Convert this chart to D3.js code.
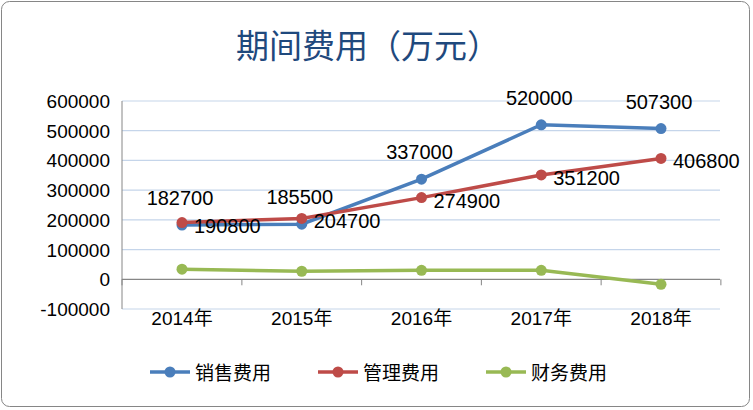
<!DOCTYPE html><html><head><meta charset="utf-8"><script src="https://cdn.jsdelivr.net/npm/d3@7"></script>
<style>body{margin:0;background:#fff}</style></head><body><svg id="c" width="753" height="410"></svg>
<script>
const categories=["2014年","2015年","2016年","2017年","2018年"];
const sales=[182700,185500,337000,520000,507300];
const admin=[190800,204700,274900,351200,406800];
const finance=[34000,27000,30000,30000,-17000];
const yTicks=[-100000,0,100000,200000,300000,400000,500000,600000];
const seriesNames=["销售费用","管理费用","财务费用"];
const colors=["#4A7EBB","#BE4B48","#98B954"];
const svg=d3.select("#c");
const font="'Liberation Sans','Noto Sans CJK SC',sans-serif";
svg.append("rect").attr("x",1.5).attr("y",1.5).attr("width",748).attr("height",405).attr("rx",8).attr("fill","#fff").attr("stroke","#868686");
svg.append("text").attr("x",368).attr("y",58).attr("text-anchor","middle").attr("font-family","'Noto Sans CJK SC',sans-serif").attr("font-size",33).attr("fill","#1F497D").text("期间费用（万元）");
const x=d3.scalePoint().domain(categories).range([182,661]);
const y=d3.scaleLinear().domain([-100000,600000]).range([309,101]);
const g=svg.append("g");
yTicks.forEach(t=>{g.append("line").attr("x1",122).attr("x2",720).attr("y1",y(t)).attr("y2",y(t)).attr("stroke",t===0?"#868686":"#C5D5EA").attr("stroke-width",1.2);
g.append("text").attr("x",110).attr("y",y(t)+7).attr("text-anchor","end").attr("font-family",font).attr("font-size",19).text(t);});
g.append("line").attr("x1",122).attr("x2",122).attr("y1",101).attr("y2",309).attr("stroke","#868686");
const step=x.step();
categories.forEach((c,i)=>{
 g.append("line").attr("x1",x(c)+step/2).attr("x2",x(c)+step/2).attr("y1",y(0)).attr("y2",y(0)+6).attr("stroke","#868686");
 g.append("text").attr("x",x(c)).attr("y",325).attr("text-anchor","middle").attr("font-family",font).attr("font-size",19).text(c);});
g.append("line").attr("x1",122).attr("x2",122).attr("y1",y(0)).attr("y2",y(0)+6).attr("stroke","#868686");
const data=[sales,admin,finance];
const line=d3.line().x((d,i)=>x(categories[i])).y(d=>y(d));
data.forEach((s,k)=>{
 g.append("path").attr("d",line(s)).attr("fill","none").attr("stroke",colors[k]).attr("stroke-width",3.5);
 s.forEach((v,i)=>g.append("circle").attr("cx",x(categories[i])).attr("cy",y(v)).attr("r",5.5).attr("fill",colors[k]));});
sales.forEach((v,i)=>g.append("text").attr("x",x(categories[i])-2).attr("y",y(v)-20).attr("text-anchor","middle").attr("font-family",font).attr("font-size",20).text(v));
admin.forEach((v,i)=>g.append("text").attr("x",x(categories[i])+12).attr("y",y(v)+10).attr("font-family",font).attr("font-size",20).text(v));
const lx=[150,318,486];
seriesNames.forEach((n,k)=>{
 svg.append("line").attr("x1",lx[k]).attr("x2",lx[k]+40).attr("y1",372).attr("y2",372).attr("stroke",colors[k]).attr("stroke-width",3.5);
 svg.append("circle").attr("cx",lx[k]+20).attr("cy",372).attr("r",5.5).attr("fill",colors[k]);
 svg.append("text").attr("x",lx[k]+45).attr("y",380).attr("font-family","'Noto Sans CJK SC',sans-serif").attr("font-size",19).text(n);});
</script></body></html>
